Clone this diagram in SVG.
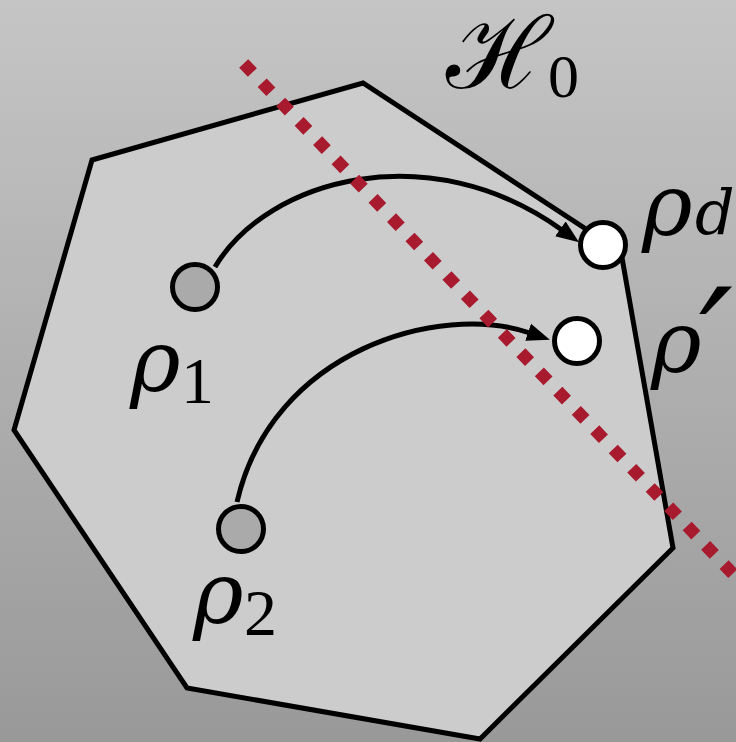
<svg xmlns="http://www.w3.org/2000/svg" width="736" height="742" viewBox="0 0 736 742">
  <defs>
    <linearGradient id="bg" x1="0" y1="0" x2="0" y2="1">
      <stop offset="0" stop-color="#c5c5c5"/>
      <stop offset="1" stop-color="#999999"/>
    </linearGradient>
    <marker id="ah" markerUnits="userSpaceOnUse" markerWidth="30" markerHeight="24" viewBox="0 -12 30 24" refX="2" refY="0" orient="auto">
      <path d="M0,-9 L23,0 L0,9 z" fill="#000"/>
    </marker>
    <style>
      .hull { fill: #cccccc; stroke: #000; stroke-width: 5; stroke-linejoin: miter; }
      .conn { fill: none; stroke: #000; stroke-width: 5; marker-end: url(#ah); }
      .pt { stroke: #000; stroke-width: 5; }
      .grey { fill: #aaaaaa; }
      .white { fill: #ffffff; }
      .sep { fill: none; stroke: #a81a2e; stroke-width: 12.5; stroke-dasharray: 12.5 14.2; }
      .lbl { font-family: "DejaVu Serif", "Liberation Serif", serif; font-style: italic; fill: #000; }
      .sub { font-family: "Liberation Serif", "DejaVu Serif", serif; fill: #000; }
    </style>
  </defs>
  <rect x="0" y="0" width="736" height="742" fill="url(#bg)"/>

  <g id="hull">
    <polygon class="hull" points="92,160 363,83 621,252 673,548 480,739 187,688 14,430"/>
    <text x="446" y="88" font-size="100" font-family="DejaVu Serif, serif" fill="#000">ℋ</text>
    <text class="sub" x="548" y="97" font-size="62">0</text>
  </g>

  <g id="connectors">
    <path class="conn" d="M215,267 C268,178 430,135 562,230"/>
    <path class="conn" d="M237,502 C272,350 440,302 530,333"/>
  </g>

  <g id="rho1">
    <circle class="pt grey" cx="195" cy="287" r="22.5"/>
    <text class="lbl" x="130" y="391" font-size="86">ρ</text>
    <text class="sub" x="181" y="403" font-size="66">1</text>
  </g>
  <g id="rho2">
    <circle class="pt grey" cx="241" cy="529" r="22.5"/>
    <text class="lbl" x="193" y="623" font-size="86">ρ</text>
    <text class="sub" x="244" y="635" font-size="66">2</text>
  </g>
  <g id="rhod">
    <circle class="pt white" cx="603" cy="245" r="22.5"/>
    <text class="lbl" x="642" y="235" font-size="86">ρ</text>
    <text class="lbl" x="695" y="234" font-size="62">d</text>
  </g>
  <g id="rhoprime">
    <circle class="pt white" cx="577" cy="341" r="22.5"/>
    <text class="lbl" x="651" y="372" font-size="86">ρ</text>
    <text class="lbl" x="699" y="396" font-size="150">′</text>
  </g>

  <g id="separator">
    <path class="sep" d="M243.7,63.5 L760,602"/>
  </g>
</svg>
